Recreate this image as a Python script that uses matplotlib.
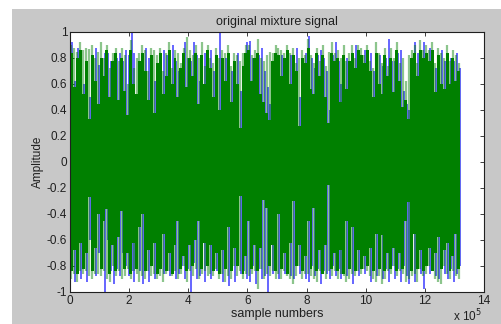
import numpy as np
import matplotlib
matplotlib.use("Agg")
import matplotlib.pyplot as plt
from matplotlib.patches import Rectangle

plt.rcParams['font.family'] = ['Liberation Sans', 'DejaVu Sans']

# ---- data (amplitudes in hundredths, one value per block of 1e4 samples) ----
block = 1e4

# solid green envelope (top)
g_hi = [84,58,80,86,52,78,33,82,62,45,
        80,66,86,50,78,84,48,80,55,36,
        86,60,52,78,84,70,48,82,38,76,
        84,52,66,86,60,80,50,72,84,58,
        80,66,84,45,82,60,86,72,50,82,
        40,80,62,84,46,78,60,26,74,84,
        86,62,80,84,52,46,38,32,78,84,
        82,66,80,86,60,82,70,28,80,76,
        88,56,52,84,66,82,50,30,84,78,
        80,46,82,56,78,84,72,86,82,76,
        86,70,50,84,60,52,82,66,80,54,
        86,62,42,48,33,80,84,66,86,80,
        84,78,86,54,82,60,56,84,60,80,
        62,70]
# light green spikes (top)
s_hi = [90,88,85,92,86,88,87,90,80,85,
        92,80,90,72,84,88,78,88,82,60,
        94,72,80,84,90,86,70,88,86,82,
        88,70,84,92,72,86,84,76,88,96,
        86,82,90,80,92,74,90,80,76,88,
        80,86,84,90,74,84,82,78,84,90,
        90,82,86,95,80,78,82,85,84,90,
        88,86,84,90,84,88,76,80,86,82,
        95,82,76,88,78,90,74,85,92,84,
        86,80,90,78,84,90,80,90,88,82,
        90,78,72,92,84,76,88,74,88,80,
        92,76,80,62,82,86,90,76,94,86,
        90,86,92,76,88,84,80,90,78,86,
        82,76]
# blue spikes (top)
b_hi = [92,62,88,80,60,75,50,80,88,75,
        78,84,84,78,76,80,84,78,86,82,
        100,84,50,76,80,88,80,80,62,74,
        82,86,82,84,90,78,70,70,92,80,
        78,92,82,62,80,84,84,86,70,80,
        100,78,80,82,70,76,84,55,72,92,
        93,80,78,82,88,70,58,45,76,82,
        80,82,78,84,82,80,88,50,78,84,
        97,80,72,82,86,80,70,40,82,92,
        78,60,80,80,76,82,90,84,80,86,
        84,84,70,82,82,74,80,95,78,78,
        84,86,55,45,40,78,92,84,84,92,
        82,88,84,72,80,86,78,82,80,78,
        84,72]
# solid green envelope (bottom)
g_lo = [-84,-68,-86,-62,-82,-70,-27,-84,-66,-40,
        -82,-45,-36,-86,-64,-84,-58,-38,-82,-70,
        -86,-62,-82,-50,-40,-84,-68,-80,-62,-86,
        -82,-55,-84,-70,-86,-64,-45,-82,-72,-84,
        -64,-80,-60,-45,-82,-62,-80,-64,-84,-70,
        -86,-68,-82,-50,-84,-66,-80,-26,-86,-72,
        -45,-82,-64,-84,-66,-29,-35,-80,-64,-84,
        -40,-82,-70,-86,-62,-30,-80,-64,-84,-72,
        -45,-82,-35,-84,-68,-86,-64,-18,-82,-70,
        -84,-68,-86,-45,-82,-50,-84,-68,-82,-72,
        -80,-66,-84,-55,-82,-56,-84,-70,-82,-66,
        -84,-70,-82,-45,-31,-84,-55,-82,-68,-84,
        -80,-66,-84,-70,-58,-82,-68,-62,-84,-72,
        -55,-82]
# light green spikes (bottom)
s_lo = [-90,-86,-92,-84,-86,-84,-88,-90,-86,-86,
        -88,-84,-90,-92,-80,-88,-84,-90,-88,-82,
        -90,-84,-86,-92,-88,-90,-84,-88,-86,-90,
        -88,-92,-86,-84,-88,-84,-90,-86,-80,-92,
        -84,-88,-82,-90,-86,-84,-88,-86,-88,-82,
        -90,-86,-92,-88,-90,-80,-88,-84,-90,-86,
        -88,-86,-84,-98,-82,-90,-86,-88,-84,-90,
        -86,-90,-84,-88,-90,-94,-88,-80,-90,-86,
        -86,-88,-90,-92,-84,-86,-90,-84,-88,-84,
        -90,-86,-88,-92,-90,-86,-88,-84,-86,-82,
        -84,-88,-90,-92,-88,-94,-90,-84,-86,-80,
        -88,-84,-86,-92,-90,-88,-86,-92,-82,-88,
        -86,-80,-84,-90,-92,-94,-80,-86,-90,-84,
        -88,-90]
# blue spikes (bottom)
b_lo = [-80,-92,-84,-90,-80,-92,-60,-82,-88,-70,
        -80,-100,-60,-84,-94,-82,-88,-70,-80,-88,
        -84,-92,-80,-84,-94,-82,-92,-78,-90,-84,
        -80,-86,-82,-88,-84,-90,-86,-80,-90,-82,
        -100,-78,-90,-88,-80,-92,-78,-90,-82,-84,
        -84,-92,-80,-95,-82,-92,-78,-86,-84,-90,
        -92,-80,-94,-82,-90,-88,-100,-78,-86,-82,
        -90,-80,-86,-84,-88,-90,-78,-86,-82,-90,
        -92,-80,-88,-82,-94,-84,-86,-90,-80,-88,
        -82,-90,-84,-88,-80,-94,-82,-88,-80,-86,
        -78,-92,-82,-88,-80,-90,-82,-92,-80,-90,
        -82,-92,-80,-88,-94,-82,-92,-80,-86,-98,
        -78,-86,-82,-88,-90,-80,-86,-90,-82,-92,
        -86,-80]

xticks = [0, 2, 4, 6, 8, 10, 12, 14]
yticks = [-1, -0.8, -0.6, -0.4, -0.2, 0, 0.2, 0.4, 0.6, 0.8, 1]
ytick_labels = ['-1', '-0.8', '-0.6', '-0.4', '-0.2', '0', '0.2', '0.4', '0.6', '0.8', '1']

# ---- figure ----
W, H = 501, 324
fig = plt.figure(figsize=(W / 100, H / 100), dpi=100, facecolor='white')
bg = Rectangle((12 / W, 0), 1 - 12 / W, 1 - 9 / H,
               transform=fig.transFigure, facecolor='#c8c8c8',
               edgecolor='none', zorder=-10)
fig.add_artist(bg)

ax = fig.add_axes([70 / W, 32 / H, 414 / W, 260 / H])
ax.set_zorder(1)
ax.set_facecolor('white')

nb = len(g_hi)
centers = (np.arange(nb) + 0.5) * block
edges = np.arange(nb + 1) * block
to_amp = lambda a: np.asarray(a, float) / 100.0

GREEN = (0, 0.5, 0)
BLUE = (0, 0, 1)

# blue signal behind (slightly offset within each block)
ax.vlines(centers + 0.3 * block, to_amp(b_lo), to_amp(b_hi), color=BLUE,
          alpha=0.7, linewidth=1.2, zorder=2)
# light green spikes
ax.vlines(centers, to_amp(s_lo), to_amp(s_hi), color=GREEN, alpha=0.45,
          linewidth=1.6, zorder=3)
# solid green body
ghi = np.append(to_amp(g_hi), to_amp(g_hi)[-1])
glo = np.append(to_amp(g_lo), to_amp(g_lo)[-1])
ax.fill_between(edges, glo, ghi, step='post', color=GREEN, linewidth=0,
                zorder=4)

ax.set_xlim(0, 14e5)
ax.set_ylim(-1, 1)
ax.set_xticks([t * 1e5 for t in xticks])
ax.set_xticklabels([str(t) for t in xticks])
ax.set_yticks(yticks)
ax.set_yticklabels(ytick_labels)
ax.tick_params(direction='in', top=True, right=True, length=3, width=0.6,
               labelsize=8.5, pad=2, colors='#202020')
for s in ax.spines.values():
    s.set_linewidth(0.8)
    s.set_color('#202020')
    s.set_zorder(6)

ax.set_title('original mixture signal', fontsize=9, pad=5, color='#202020')
ax.set_xlabel('sample numbers', fontsize=9, labelpad=1, color='#202020')
ax.set_ylabel('Amplitude', fontsize=8.5, labelpad=2, color='#202020')
fig.text(453 / W, 1 - 316 / H, r'x 10$^{5}$', fontsize=8.5, va='center',
         ha='left', color='#202020')

fig.savefig('out.png', dpi=100, facecolor=fig.get_facecolor())
